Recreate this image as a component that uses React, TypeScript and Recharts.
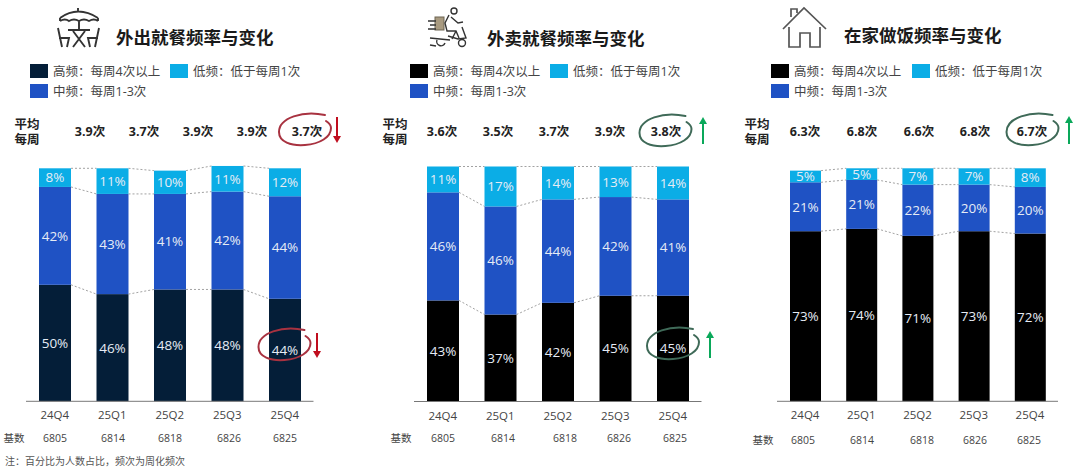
import React from 'react';
import { BarChart, Bar, XAxis, YAxis, LabelList } from 'recharts';

const quarters = ['24Q4', '25Q1', '25Q2', '25Q3', '25Q4'];
const baseCounts = ['6805', '6814', '6818', '6826', '6825'];

const outHigh = [50, 46, 48, 48, 44];
const outMid = [42, 43, 41, 42, 44];
const outLow = [8, 11, 10, 11, 12];
const outAvg = ['3.9次', '3.7次', '3.9次', '3.9次', '3.7次'];

const deliveryHigh = [43, 37, 42, 45, 45];
const deliveryMid = [46, 46, 44, 42, 41];
const deliveryLow = [11, 17, 14, 13, 14];
const deliveryAvg = ['3.6次', '3.5次', '3.7次', '3.9次', '3.8次'];

const homeHigh = [73, 74, 71, 73, 72];
const homeMid = [21, 21, 22, 20, 20];
const homeLow = [5, 5, 7, 7, 8];
const homeAvg = ['6.3次', '6.8次', '6.6次', '6.8次', '6.7次'];

const NAVY = '#041e38';
const BLACK = '#000000';
const MID = '#1f52c4';
const LOW = '#0bade6';
const RED = '#a83240';
const RED_ARROW = '#c00d1e';
const GREEN = '#3f6a58';
const GREEN_ARROW = '#0aa85a';
const FONT = '"Open Sans", "Noto Sans CJK SC", sans-serif';
const BASELINE = 401;

const toRows = (high: number[], mid: number[], low: number[]) =>
  quarters.map((name, i) => ({ name, high: high[i], mid: mid[i], low: low[i] }));

type Row = { name: string; high: number; mid: number; low: number };

// bar rect plus the dashed link over to the same boundary on the next bar
const linkedShape = (rows: Row[], keys: (keyof Row)[], step: number, fill: string) => (props: any) => {
  const { x, y, width, height, index } = props;
  const own = rows[index][keys[keys.length - 1]] as number;
  const perUnit = height / own;
  const sum = (r: Row) => keys.reduce((acc, k) => acc + (r[k] as number), 0);
  const next = rows[index + 1];
  const nextY = next ? y + (sum(rows[index]) - sum(next)) * perUnit : 0;
  return (
    <g>
      <rect x={x} y={y} width={width} height={height} fill={fill} />
      {next && (
        <line x1={x + width} y1={y} x2={x + step} y2={nextY} stroke="#8a8a8a" strokeWidth={0.8} strokeDasharray="2 2" />
      )}
    </g>
  );
};

type PanelProps = {
  rows: Row[];
  left: number;
  step: number;
  unit: number;
  barSize: number;
  highColor: string;
};

const StackPanel: React.FC<PanelProps> = ({ rows, left, step, unit, barSize, highColor }) => {
  const plotH = 110 * unit;
  const label = { fill: '#e6ecf5', fontSize: 13.5, fontFamily: FONT };
  return (
    <div style={{ position: 'absolute', left, top: BASELINE - plotH }}>
      <BarChart
        width={step * 5}
        height={plotH + 30}
        data={rows}
        margin={{ top: 0, right: 0, bottom: 0, left: 0 }}
        barSize={barSize}
      >
        <XAxis
          dataKey="name"
          height={30}
          axisLine={{ stroke: '#777777', strokeWidth: 1 }}
          tickLine={false}
          tickMargin={4}
          interval={0}
          tick={{ fill: '#444444', fontSize: 11.5, fontFamily: FONT }}
        />
        <YAxis hide domain={[0, 110]} />
        <Bar dataKey="high" stackId="a" isAnimationActive={false} shape={linkedShape(rows, ['high'], step, highColor)}>
          <LabelList dataKey="high" position="center" formatter={(v: any) => `${v}%`} style={label} />
        </Bar>
        <Bar dataKey="mid" stackId="a" isAnimationActive={false} shape={linkedShape(rows, ['high', 'mid'], step, MID)}>
          <LabelList dataKey="mid" position="center" formatter={(v: any) => `${v}%`} style={label} />
        </Bar>
        <Bar dataKey="low" stackId="a" isAnimationActive={false} shape={linkedShape(rows, ['high', 'mid', 'low'], step, LOW)}>
          <LabelList dataKey="low" position="center" formatter={(v: any) => `${v}%`} style={label} />
        </Bar>
      </BarChart>
    </div>
  );
};

const Legend: React.FC<{ x: number; lowX: number; highColor: string }> = ({ x, lowX, highColor }) => {
  const text = { fontSize: 12.5, fill: '#444444', fontFamily: FONT };
  return (
    <g>
      <rect x={x} y={64} width={18} height={14} fill={highColor} />
      <text x={x + 23} y={76} {...text}>高频：每周4次以上</text>
      <rect x={lowX} y={64} width={18} height={14} fill={LOW} />
      <text x={lowX + 23} y={76} {...text}>低频：低于每周1次</text>
      <rect x={x} y={84} width={18} height={14} fill={MID} />
      <text x={x + 23} y={96} {...text}>中频：每周1-3次</text>
    </g>
  );
};

const AvgRow: React.FC<{ labelX: number; xs: number[]; values: string[] }> = ({ labelX, xs, values }) => (
  <g fontFamily={FONT} fontSize={12.5} fontWeight={700} fill="#222222" textAnchor="middle">
    <text x={labelX} y={129}>平均</text>
    <text x={labelX} y={144}>每周</text>
    {values.map((v, i) => (
      <text key={i} x={xs[i]} y={136}>{v}</text>
    ))}
  </g>
);

const BaseRow: React.FC<{ labelX: number; y: number; xs: number[] }> = ({ labelX, y, xs }) => (
  <g fontFamily={FONT} fontSize={10.5} fill="#444444" textAnchor="middle">
    <text x={labelX} y={y}>基数</text>
    {baseCounts.map((v, i) => (
      <text key={i} x={xs[i]} y={y}>{v}</text>
    ))}
  </g>
);

// hand drawn loop, centred on cx, cy
const Loop: React.FC<{ cx: number; cy: number; color: string }> = ({ cx, cy, color }) => (
  <path
    transform={`translate(${cx} ${cy})`}
    d="M20 -16 C-2 -21 -26 -13 -26 1 C-26 11 -14 15 0 14 C15 13 26 6 26 -3 C26 -6 24 -8 21 -10"
    fill="none"
    stroke={color}
    strokeWidth={2}
    strokeLinecap="round"
  />
);

const Arrow: React.FC<{ x: number; y1: number; y2: number; color: string }> = ({ x, y1, y2, color }) => {
  const dir = y2 > y1 ? 1 : -1;
  return (
    <g>
      <line x1={x} y1={y1} x2={x} y2={y2 - dir * 5} stroke={color} strokeWidth={2} />
      <path d={`M${x - 4} ${y2 - dir * 7} L${x + 4} ${y2 - dir * 7} L${x} ${y2} Z`} fill={color} />
    </g>
  );
};

const Icons = () => (
  <g fill="none" stroke="#333333" strokeWidth={1.9}>
    {/* umbrella and table */}
    <path d="M78 8 L78 11 M60 18 Q78 5 98 18 M60 18 L60 21 M98 18 L98 21 M60 21 Q65 18 69 21 Q74 18 79 21 Q84 18 89 21 Q94 18 98 21 M79 21 L79 30" />
    <path d="M68 30 L90 30 M73 47 L85 31 M85 47 L73 31" />
    <path d="M58 28 L62 47 M59 38 L69 38 L67 47 M99 28 L95 47 M98 38 L88 38 L90 47" />
    {/* delivery rider */}
    <rect x="435" y="17" width="9" height="13" fill="#a89a80" stroke="#6d6452" strokeWidth={1} />
    <path d="M428 21 L436 21 M430 25 L436 25 M428 29 L436 29" strokeWidth={1.4} />
    <circle cx="454" cy="11" r="3" strokeWidth={1.4} />
    <path d="M449 15 L445 23 L447 31 L456 31 L459 38 M451 17 L458 23 L463 22 M456 31 L452 39 M448 36 L458 39 L466 38 L462 27" strokeWidth={1.4} />
    <path d="M430 38 L450 40 M437 40 A4 4 0 0 0 445 43" strokeWidth={1.4} />
    <circle cx="462" cy="43" r="3.5" strokeWidth={1.4} />
    <path d="M430 45 L436 46" strokeWidth={1.4} />
    {/* house */}
    <path d="M783 29 L804 8 L826 29 M791 17 L791 9 L797 9 L797 13 M789 27 L789 47 L800 47 L800 33 L810 33 L810 47 L820 47 L820 27" stroke="#555555" strokeWidth={1.7} />
  </g>
);

const Title: React.FC<{ x: number; y: number; children: string }> = ({ x, y, children }) => (
  <text x={x} y={y} fontFamily={FONT} fontSize={17.5} fontWeight={700} fill="#1a1a1a">{children}</text>
);

export default function App() {
  return (
    <div style={{ position: 'absolute', left: 0, top: 0, width: 1080, height: 471, background: '#fff', overflow: 'hidden' }}>
      <StackPanel rows={toRows(outHigh, outMid, outLow)} left={26} step={57.5} unit={2.33} barSize={32} highColor={NAVY} />
      <StackPanel rows={toRows(deliveryHigh, deliveryMid, deliveryLow)} left={414.25} step={57.5} unit={2.35} barSize={32} highColor={BLACK} />
      <StackPanel rows={toRows(homeHigh, homeMid, homeLow)} left={777} step={56.2} unit={2.33} barSize={31} highColor={BLACK} />
      <svg width={1080} height={471} style={{ position: 'absolute', left: 0, top: 0, pointerEvents: 'none' }}>
        <Icons />
        <Title x={116} y={44}>外出就餐频率与变化</Title>
        <Title x={487} y={45}>外卖就餐频率与变化</Title>
        <Title x={844} y={42}>在家做饭频率与变化</Title>

        <Legend x={30} lowX={170} highColor={NAVY} />
        <Legend x={410} lowX={550} highColor={BLACK} />
        <Legend x={771} lowX={912} highColor={BLACK} />

        <AvgRow labelX={27} xs={[90, 144, 198, 252, 307]} values={outAvg} />
        <AvgRow labelX={395} xs={[442, 498, 554, 610, 666]} values={deliveryAvg} />
        <AvgRow labelX={757} xs={[805, 862, 919, 975, 1032]} values={homeAvg} />

        <BaseRow labelX={14} y={442} xs={[55, 113, 170, 229, 285]} />
        <BaseRow labelX={401} y={442} xs={[443, 503, 565, 619, 675]} />
        <BaseRow labelX={763} y={444} xs={[803, 862, 922, 975, 1029]} />

        <Loop cx={305} cy={131} color={RED} />
        <Arrow x={337} y1={117} y2={143} color={RED_ARROW} />
        <Loop cx={284.5} cy={346} color={RED} />
        <Arrow x={317} y1={333} y2={358} color={RED_ARROW} />

        <Loop cx={665.5} cy={132} color={GREEN} />
        <Arrow x={703} y1={144} y2={117} color={GREEN_ARROW} />
        <Loop cx={673} cy={345} color={GREEN} />
        <Arrow x={710} y1={358} y2={331} color={GREEN_ARROW} />

        <Loop cx={1032.5} cy={131} color={GREEN} />
        <Arrow x={1069} y1={144} y2={116} color={GREEN_ARROW} />

        <text x={5} y={465} fontFamily={FONT} fontSize={10} fill="#555555">注：百分比为人数占比，频次为周化频次</text>
      </svg>
    </div>
  );
}
